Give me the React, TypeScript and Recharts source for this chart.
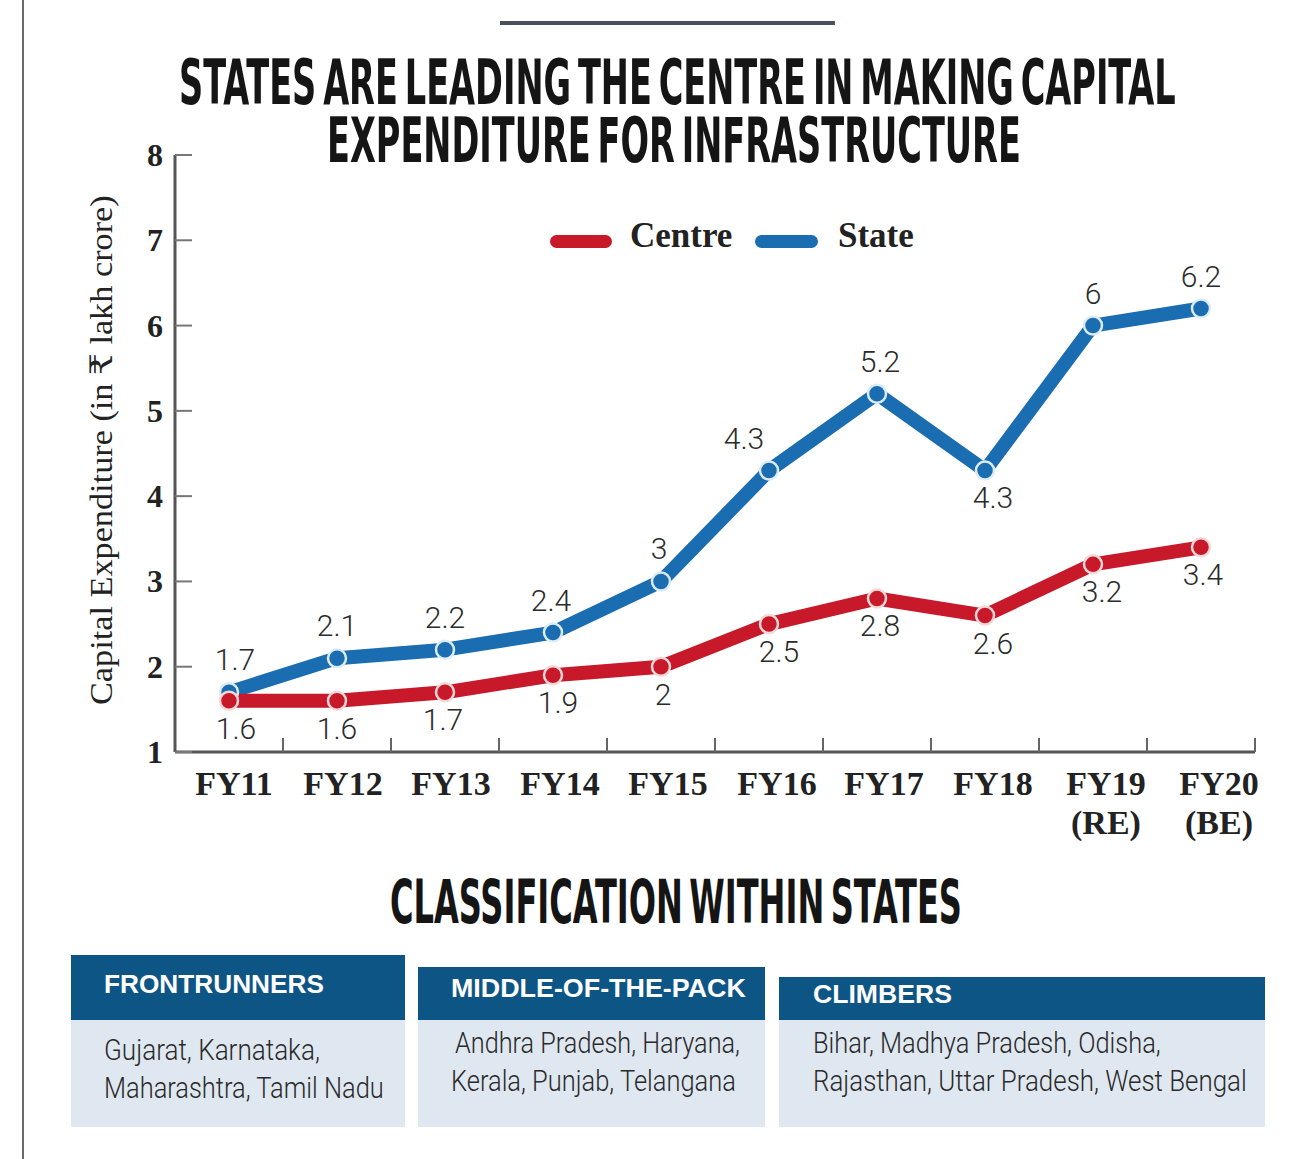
import React, { useLayoutEffect, useRef, useState } from 'react';
import { LineChart, Line, XAxis, YAxis, Legend } from 'recharts';

// ---------- data ----------
const categories = ['FY11', 'FY12', 'FY13', 'FY14', 'FY15', 'FY16', 'FY17', 'FY18', 'FY19', 'FY20'];
const categorySubLabels = ['', '', '', '', '', '', '', '', '(RE)', '(BE)'];
const centreValues = [1.6, 1.6, 1.7, 1.9, 2, 2.5, 2.8, 2.6, 3.2, 3.4];
const stateValues = [1.7, 2.1, 2.2, 2.4, 3, 4.3, 5.2, 4.3, 6, 6.2];
const yTicks = [1, 2, 3, 4, 5, 6, 7, 8];

// label placement (styling only)
const stateLabelSide = ['above', 'above', 'above', 'above', 'above', 'above', 'above', 'below', 'above', 'above'];
const stateLabelDx = [6, 0, 0, -2, -2, -25, 3, 8, 0, 0];
const centreLabelDx = [7, 0, -2, 5, 2, 10, 3, 8, 9, 2];
const xLabelDx = [5, 6, 6, 7, 7, 8, 7, 8, 13, 18];

const title1 = 'STATES ARE LEADING THE CENTRE IN MAKING CAPITAL';
const title2 = 'EXPENDITURE FOR INFRASTRUCTURE';
const yAxisTitle = 'Capital Expenditure (in ₹ lakh crore)';
const subTitle = 'CLASSIFICATION WITHIN STATES';
const groupNames = ['FRONTRUNNERS', 'MIDDLE-OF-THE-PACK', 'CLIMBERS'];
const groupLines = [
  ['Gujarat, Karnataka,', 'Maharashtra, Tamil Nadu'],
  ['Andhra Pradesh, Haryana,', 'Kerala, Punjab, Telangana'],
  ['Bihar, Madhya Pradesh, Odisha,', 'Rajasthan, Uttar Pradesh, West Bengal'],
];

const data = categories.map((c, i) => ({
  name: c,
  centre: centreValues[i],
  state: stateValues[i],
}));

// ---------- styles ----------
const RED = '#c8192b';
const BLUE = '#1a6db1';
const SERIF = "'Liberation Serif', 'DejaVu Serif', serif";
const COND = "'DejaVu Sans Condensed', 'Liberation Sans Narrow', 'DejaVu Sans', sans-serif";
const NUMFONT = "Roboto, 'Noto Sans', sans-serif";
const PLOT_LEFT = 175;
const PLOT_RIGHT = 1255;
const BAND = (PLOT_RIGHT - PLOT_LEFT) / categories.length;

// text that is horizontally scaled to fit a given width
const FitText = (props: any) => {
  const { x, y, width, children, ...rest } = props;
  const ref = useRef<SVGTextElement>(null);
  const [sx, setSx] = useState(1);
  useLayoutEffect(() => {
    if (ref.current) {
      const w = ref.current.getComputedTextLength();
      if (w > 0) setSx(width / w);
    }
  }, [width, children]);
  return (
    <g transform={`translate(${x}, ${y}) scale(${sx}, 1)`}>
      <text ref={ref} x={0} y={0} {...rest}>
        {children}
      </text>
    </g>
  );
};

const XTick = (props: any) => {
  const { x, y, payload, index } = props;
  const sub = categorySubLabels[index];
  const lx = x + xLabelDx[index];
  return (
    <g>
      <line x1={x + BAND / 2} x2={x + BAND / 2} y1={y} y2={y - 14} stroke="#666" strokeWidth={2} />
      <text x={lx} y={y + 43} textAnchor="middle" fontFamily={SERIF} fontWeight="bold" fontSize={34} fill="#222">
        {payload.value}
      </text>
      {sub ? (
        <text x={lx} y={y + 82} textAnchor="middle" fontFamily={SERIF} fontWeight="bold" fontSize={34} fill="#222">
          {sub}
        </text>
      ) : null}
    </g>
  );
};

const YTick = (props: any) => {
  const { x, y, payload } = props;
  return (
    <g>
      <line x1={x} x2={x + 17} y1={y} y2={y} stroke="#777" strokeWidth={2} />
      <text x={x - 12} y={y + 11} textAnchor="end" fontFamily={SERIF} fontWeight="bold" fontSize={32} fill="#222">
        {payload.value}
      </text>
    </g>
  );
};

const makeLabel = (series: 'state' | 'centre') => (props: any) => {
  const { x, y, index, value } = props;
  let dy = 38;
  let dx = 0;
  if (series === 'state') {
    dy = stateLabelSide[index] === 'above' ? -22 : 37;
    dx = stateLabelDx[index];
  } else {
    dx = centreLabelDx[index];
  }
  return (
    <text
      key={`${series}-${index}`}
      x={x + dx}
      y={y + dy}
      textAnchor="middle"
      fontFamily={NUMFONT}
      fontWeight={300}
      fontSize={30}
      fill="#2b2b2b"
    >
      {value}
    </text>
  );
};

const LegendContent = () => (
  <svg width={420} height={50}>
    <rect x={5} y={23} width={62} height={13} rx={6.5} fill={RED} />
    <text x={85} y={35} fontFamily={SERIF} fontWeight="bold" fontSize={35} fill="#222">Centre</text>
    <rect x={210} y={23} width={63} height={13} rx={6.5} fill={BLUE} />
    <text x={293} y={35} fontFamily={SERIF} fontWeight="bold" fontSize={35} fill="#222">State</text>
  </svg>
);

const Overlay = () => {
  const boxes = [
    { x: 71, w: 334, top: 955, hx: 104, hw: 220, hb: 993, lx: [104, 104], lw: [216, 280] },
    { x: 418, w: 347, top: 967, hx: 451, hw: 295, hb: 997, lx: [455, 451], lw: [285, 285] },
    { x: 779, w: 486, top: 977, hx: 813, hw: 139, hb: 1003, lx: [813, 813], lw: [348, 434] },
  ];
  const lineBase = [[1060, 1098], [1053, 1091], [1053, 1091]];
  return (
    <svg width={1303} height={1159} style={{ position: 'absolute', left: 0, top: 0 }}>
      <rect x={0} y={0} width={1303} height={1159} fill="#ffffff" />
      <line x1={23} x2={23} y1={0} y2={1159} stroke="#6a6a6a" strokeWidth={2} />
      <line x1={500} x2={835} y1={23} y2={23} stroke="#4a505c" strokeWidth={4} />
      <FitText x={179} y={104} width={997} wordSpacing={-8} fontFamily={COND} fontWeight="bold" fontSize={62} fill="#151515">
        {title1}
      </FitText>
      <FitText x={327} y={162} width={694} wordSpacing={-8} fontFamily={COND} fontWeight="bold" fontSize={62} fill="#151515">
        {title2}
      </FitText>
      <g transform="translate(112, 450) rotate(-90)">
        <FitText x={-255} y={0} width={510} fontFamily={SERIF} fontSize={31} fill="#222">
          {yAxisTitle}
        </FitText>
      </g>
      <FitText x={390} y={923} width={572} wordSpacing={-8} fontFamily={COND} fontWeight="bold" fontSize={60} fill="#151515">
        {subTitle}
      </FitText>
      {boxes.map((b, i) => (
        <g key={i}>
          <rect x={b.x} y={1020} width={b.w} height={107} fill="#dfe7f0" />
          <rect x={b.x} y={b.top} width={b.w} height={1020 - b.top} fill="#0d5585" />
          <FitText x={b.hx} y={b.hb} width={b.hw} fontFamily="'Liberation Sans', Arial, sans-serif" fontWeight="bold" fontSize={26} fill="#ffffff">
            {groupNames[i]}
          </FitText>
          {groupLines[i].map((t, j) => (
            <FitText key={j} x={b.lx[j]} y={lineBase[i][j]} width={b.lw[j]} fontFamily={NUMFONT} fontWeight={300} fontSize={29} fill="#2a2a2a">
              {t}
            </FitText>
          ))}
        </g>
      ))}
    </svg>
  );
};

export default function App() {
  return (
    <div style={{ position: 'absolute', left: 0, top: 0, width: 1303, height: 1159, background: '#fff' }}>
      <Overlay />
      <div style={{ position: 'absolute', left: 0, top: 0 }}>
        <LineChart
          width={1303}
          height={900}
          data={data}
          margin={{ top: 155, right: 48, bottom: 48, left: 115 }}
        >
          <XAxis
            dataKey="name"
            scale="band"
            height={100}
            interval={0}
            tickSize={0}
            tickMargin={0}
            tickLine={false}
            axisLine={{ stroke: '#555', strokeWidth: 3 }}
            tick={<XTick />}
          />
          <YAxis
            type="number"
            domain={[1, 8]}
            ticks={yTicks}
            interval={0}
            width={60}
            tickSize={0}
            tickMargin={0}
            tickLine={false}
            axisLine={{ stroke: '#555', strokeWidth: 3 }}
            tick={<YTick />}
          />
          <Legend
            verticalAlign="middle"
            align="center"
            layout="horizontal"
            wrapperStyle={{ top: 212, left: 545, width: 420, height: 50 }}
            content={() => <LegendContent />}
          />
          <Line
            type="linear"
            dataKey="state"
            name="State"
            stroke={BLUE}
            strokeWidth={14}
            strokeLinejoin="round"
            dot={{ r: 9, fill: BLUE, stroke: '#dcecf7', strokeWidth: 2.5 }}
            activeDot={false}
            label={makeLabel('state')}
            isAnimationActive={false}
          />
          <Line
            type="linear"
            dataKey="centre"
            name="Centre"
            stroke={RED}
            strokeWidth={14}
            strokeLinejoin="round"
            dot={{ r: 9, fill: RED, stroke: '#f6d8d8', strokeWidth: 2.5 }}
            activeDot={false}
            label={makeLabel('centre')}
            isAnimationActive={false}
          />
        </LineChart>
      </div>
    </div>
  );
}
